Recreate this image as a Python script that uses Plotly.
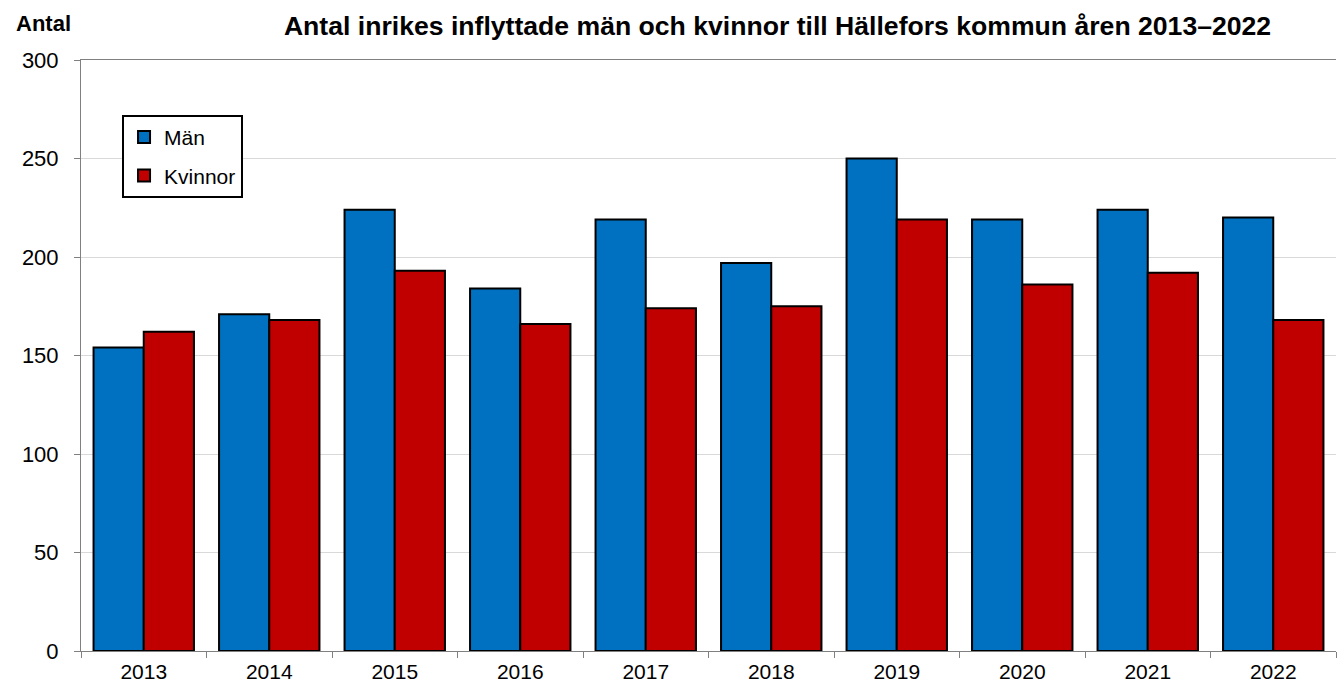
import plotly.graph_objects as go

years = ["2013", "2014", "2015", "2016", "2017", "2018", "2019", "2020", "2021", "2022"]
man = [154, 171, 224, 184, 219, 197, 250, 219, 224, 220]
kvinnor = [162, 168, 193, 166, 174, 175, 219, 186, 192, 168]
y_ticks = [0, 50, 100, 150, 200, 250, 300]

FONT = "Liberation Sans, Arial, sans-serif"

fig = go.Figure()
fig.add_trace(go.Bar(x=years, y=man, name="Män", legendgroup="m",
                     marker=dict(color="#0070C0", line=dict(color="black", width=2))))
fig.add_trace(go.Bar(x=years, y=kvinnor, name="Kvinnor", legendgroup="k",
                     marker=dict(color="#C00000", line=dict(color="black", width=2))))

fig.update_layout(
    width=1341, height=688,
    margin=dict(l=81, r=5, t=60, b=37, autoexpand=False),
    paper_bgcolor="white", plot_bgcolor="white",
    font=dict(family=FONT, size=22, color="black"),
    barmode="group", bargap=0.2, bargroupgap=0,
    title=dict(text="<b>Antal inrikes inflyttade män och kvinnor till Hällefors kommun åren 2013–2022</b>",
               x=0.555, xref="paper", xanchor="center", y=0.962, yanchor="middle",
               font=dict(family=FONT, size=26.6, color="black")),
    legend=dict(x=0.0327, y=0.907, xanchor="left", yanchor="top",
                bgcolor="white", bordercolor="black", borderwidth=2,
                font=dict(family=FONT, size=21), tracegroupgap=8,
                itemwidth=30),
    xaxis=dict(type="category", showgrid=False, showline=True, linecolor="#808080", linewidth=1,
               mirror=True, ticks="outside", tickson="boundaries", ticklen=6, tickcolor="#808080",
               tickfont=dict(size=21), ticklabelstandoff=2, automargin=False),
    yaxis=dict(range=[0, 300], tickvals=y_ticks, showgrid=True, gridcolor="#d9d9d9", gridwidth=1,
               showline=True, linecolor="#808080", linewidth=1, ticks="outside", ticklen=6,
               tickcolor="#808080", tickfont=dict(size=22), zeroline=False, ticklabelstandoff=11,
               automargin=False),
    annotations=[dict(text="<b>Antal</b>", xref="paper", yref="paper", x=-0.053, y=1.062,
                      xanchor="left", yanchor="middle", showarrow=False,
                      font=dict(family=FONT, size=22, color="black"))],
)

# drop the browser's default 8px body margin so the figure sits at the window origin
fig.write_html("out.html", config={"displayModeBar": False},
               post_script="document.body.style.margin='0px';")
